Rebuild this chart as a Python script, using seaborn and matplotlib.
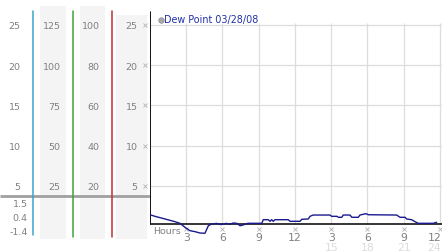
import numpy as np
import pandas as pd
import matplotlib
matplotlib.use("Agg")
import matplotlib.pyplot as plt
import seaborn as sns

# ---------------- data ----------------
hours = [0.0, 0.41, 1.24, 2.07, 2.48, 2.9, 3.31, 3.73, 4.14, 4.55, 4.83, 5.1,
         5.5, 5.9, 6.3, 6.6, 6.9, 7.2, 7.45, 7.7, 8.1, 9.25, 9.38, 9.79, 9.93,
         10.07, 10.2, 10.35, 11.45, 11.59, 12.42, 12.56, 13.1, 13.25, 13.5,
         14.9, 15.04, 15.48, 15.59, 15.87, 16.0, 16.56, 16.7, 17.24, 17.38,
         17.88, 18.07, 20.42, 20.7, 21.11, 21.25, 21.66, 21.94, 22.21, 23.45,
         23.73]
dew_point = [1.38, 1.18, 0.85, 0.51, 0.31, -0.19, -0.61, -0.73, -0.90, -0.93,
             0.01, 0.22, 0.3, 0.15, 0.3, 0.2, 0.35, 0.3, 0.01, 0.1, 0.31, 0.31,
             0.76, 0.76, 0.56, 0.76, 0.56, 0.76, 0.76, 0.56, 0.56, 0.81, 0.85,
             1.18, 1.34, 1.34, 1.18, 1.18, 1.06, 1.06, 1.34, 1.34, 1.06, 1.06,
             1.34, 1.51, 1.38, 1.34, 1.06, 1.06, 0.85, 0.76, 0.51, 0.31, 0.31,
             0.44]

series_label = "Dew Point 03/28/08"
y_ticks = [25, 20, 15, 10, 5]
scale_a = ["25", "20", "15", "10", "5"]
scale_b = ["125", "100", "75", "50", "25"]
scale_c = ["100", "80", "60", "40", "20"]
scale_d = ["25", "20", "15", "10", "5"]
mini_labels = ["1.5", "0.4", "-1.4"]
x_ticks = [3, 6, 9, 12, 15, 18, 21, 24]
x_labels = ["3", "6", "9", "12", "3", "6", "9", "12"]
x_labels2 = ["", "", "", "", "15", "18", "21", "24"]
x_axis_title = "Hours"

df = pd.DataFrame({"hour": hours, "dew": dew_point})

# ---------------- layout helpers ----------------
W, H = 442, 253
Y0, PPU = 226.8, 8.03           # pixel row of value 0, pixels per unit
def v(py):                      # pixel row -> value
    return (Y0 - py) / PPU
YLIM = (v(H), v(0))

sns.set_style("white")
plt.rcParams["font.family"] = ["DejaVu Sans"]
fig = plt.figure(figsize=(W / 100, H / 100), dpi=100)
fig.patch.set_facecolor("white")

# left scale panels (x in pixels)
axl = fig.add_axes([0, 0, 150 / W, 1])
axl.set_xlim(0, 150)
axl.set_ylim(*YLIM)
axl.axis("off")
TXT = "#808080"
FS = 6.8
for x0, x1, ytop in [(40, 65.5, 7.3), (80, 104.5, 7.3), (115.5, 146.5, 16)]:
    axl.add_patch(plt.Rectangle((x0, v(240)), x1 - x0, v(ytop) - v(240),
                                color="#f4f4f4", lw=0, zorder=0))
for xx, col, yb in [(33.3, "#3aa6c8", 235.5), (72.7, "#3aa63a", 238), (111.7, "#c03030", 238)]:
    axl.plot([xx, xx], [v(12), v(yb)], color=col, lw=1.1, zorder=2)
axl.plot([0, 150], [v(197), v(197)], color="#a0a0a0", lw=2, zorder=1, solid_capstyle="butt")
for val, a, b, c, d in zip(y_ticks, scale_a, scale_b, scale_c, scale_d):
    yy = val - 0.1
    axl.text(20.5, yy, a, ha="right", va="center", fontsize=FS, color=TXT)
    axl.text(60.5, yy, b, ha="right", va="center", fontsize=FS, color=TXT)
    axl.text(99.5, yy, c, ha="right", va="center", fontsize=FS, color=TXT)
    axl.text(137.5, yy, d, ha="right", va="center", fontsize=FS, color=TXT)
    axl.plot([145], [val], marker="x", ms=2.5, mew=0.6, color="#b0b0b0")
for py, lab in zip([204.7, 218.7, 232.3], mini_labels):
    axl.text(27.5, v(py), lab, ha="right", va="center", fontsize=FS, color=TXT, zorder=5)

# main chart (x in hours)
ax = fig.add_axes([150 / W, 0, 292 / W, 1])
XPPH = 12.08
base = v(224.5)
ax.vlines(x_ticks, base, 25.2, color="#dddddd", lw=0.9, zorder=0)
ax.hlines(y_ticks, 0, 292 / XPPH, color="#dddddd", lw=0.9, zorder=0)
ax.plot([0, 0], [base, v(13)], color="black", lw=1.3, zorder=3)
ax.plot([0, 292 / XPPH], [base, base], color="black", lw=1.1, zorder=3)
sns.lineplot(data=df, x="hour", y="dew", ax=ax, color="#1a1a90", lw=1.0,
             zorder=4, legend=False)
ax.axis("off")
ax.set_xlim(0, 292 / XPPH)
ax.set_ylim(*YLIM)
for t, lab, lab2 in zip(x_ticks, x_labels, x_labels2):
    xt = min(t, 23.55)
    ax.plot([t], [v(230)], marker="x", ms=2.5, mew=0.6, color="#b0b0b0", clip_on=False)
    ax.text(xt, v(238.5), lab, ha="center", va="center", fontsize=7.8, color=TXT)
    if lab2:
        ax.text(xt, v(248.5), lab2, ha="center", va="center", fontsize=7.8, color="#dcdcdc")
ax.text(3 / XPPH, v(232), x_axis_title, ha="left", va="center", fontsize=FS, color=TXT)
ax.plot([10.5 / XPPH], [v(21.3)], marker="o", ms=4, color="#a8a8a8", mec="#909090", mew=0.5, clip_on=False)
ax.text(13.5 / XPPH, v(20.5), series_label, ha="left", va="center", fontsize=6.9, color="#2030a8")

fig.savefig("out.png", dpi=100, facecolor="white")
